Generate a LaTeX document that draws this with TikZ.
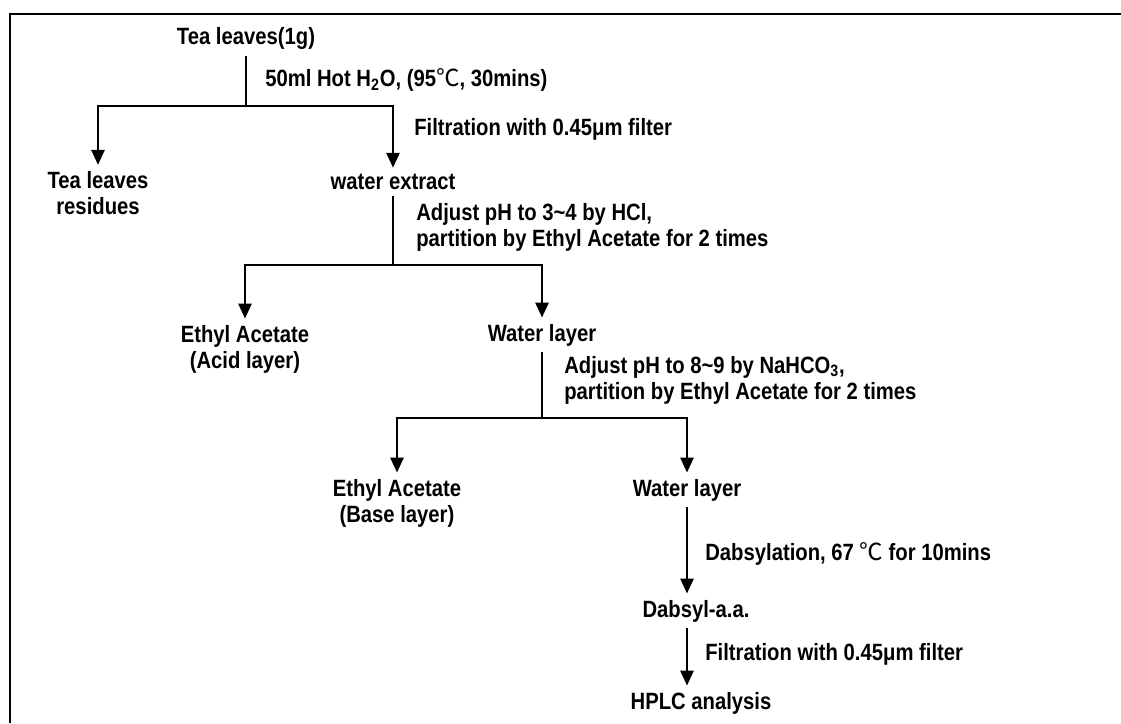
\documentclass[tikz,border=0pt]{standalone}
\usepackage{fontspec}
\setmainfont{Liberation Sans}[FakeStretch=0.86]
\newfontfamily\cjkfont{Noto Sans CJK KR}
\usetikzlibrary{arrows.meta}
\newcommand{\degC}{{\cjkfont\mdseries ℃}}

\begin{document}
\begin{tikzpicture}[
  x=0.02cm,y=-0.02cm,
  every node/.style={font=\fontsize{13.4}{14.8}\selectfont\bfseries},
  item/.style={align=center,inner xsep=2pt,inner ysep=3.5pt},
  note/.style={anchor=west,align=left,inner sep=0pt},
  line/.style={line width=1.3pt},
  arr/.style={line,-{Triangle[width=7.5pt,length=8.5pt]}}
]
\useasboundingbox (0,0) rectangle (1121,723);
\draw[line width=1.6pt] (1121,14) -- (10,14) -- (10,723);

% Tea leaves
\node[item] (tea) at (246,38) {Tea leaves(1g)};
\coordinate (j0) at (246,106);
\node[item] (res) at (98,193) {Tea leaves\\residues};
\node[item] (ext) at (393,182) {water extract};
\draw[line] (tea) -- (j0);
\draw[arr] (j0) -| (res);
\draw[arr] (j0) -| (ext);
\node[note] (n1) at (265,80) {50ml Hot H\textsubscript{2}O, (95\degC, 30mins)};
\node[note] (n2) at (414,129) {Filtration with 0.45μm filter};

% Acid partition
\coordinate (j1) at (393,265);
\node[item] (acid) at (245,349) {Ethyl Acetate\\(Acid layer)};
\node[item] (wl1) at (542,335) {Water layer};
\draw[line] (ext) -- (j1);
\draw[arr] (j1) -| (acid);
\draw[arr] (j1) -| (wl1);
\node[note] (n3) at (416,227) {Adjust pH to 3\textasciitilde4 by HCl,\\partition by Ethyl Acetate for 2 times};

% Base partition
\coordinate (j2) at (542,418);
\node[item] (base) at (397,503) {Ethyl Acetate\\(Base layer)};
\node[item] (wl2) at (687,490) {Water layer};
\draw[line] (wl1) -- (j2);
\draw[arr] (j2) -| (base);
\draw[arr] (j2) -| (wl2);
\node[note] (n4) at (564,380) {Adjust pH to 8\textasciitilde9 by NaHCO\textsubscript{3},\\partition by Ethyl Acetate for 2 times};

% Dabsylation and HPLC
\node[item] (dab) at (696,611) {Dabsyl-a.a.};
\node[item] (hplc) at (701,703) {HPLC analysis};
\draw[arr] (wl2) -- (wl2 |- dab.north);
\draw[arr] (wl2 |- dab.south) -- (wl2 |- hplc.north);
\node[note] (n5) at (705,554) {Dabsylation, 67 \degC{} for 10mins};
\node[note] (n6) at (705,654) {Filtration with 0.45μm filter};
\end{tikzpicture}
\end{document}
